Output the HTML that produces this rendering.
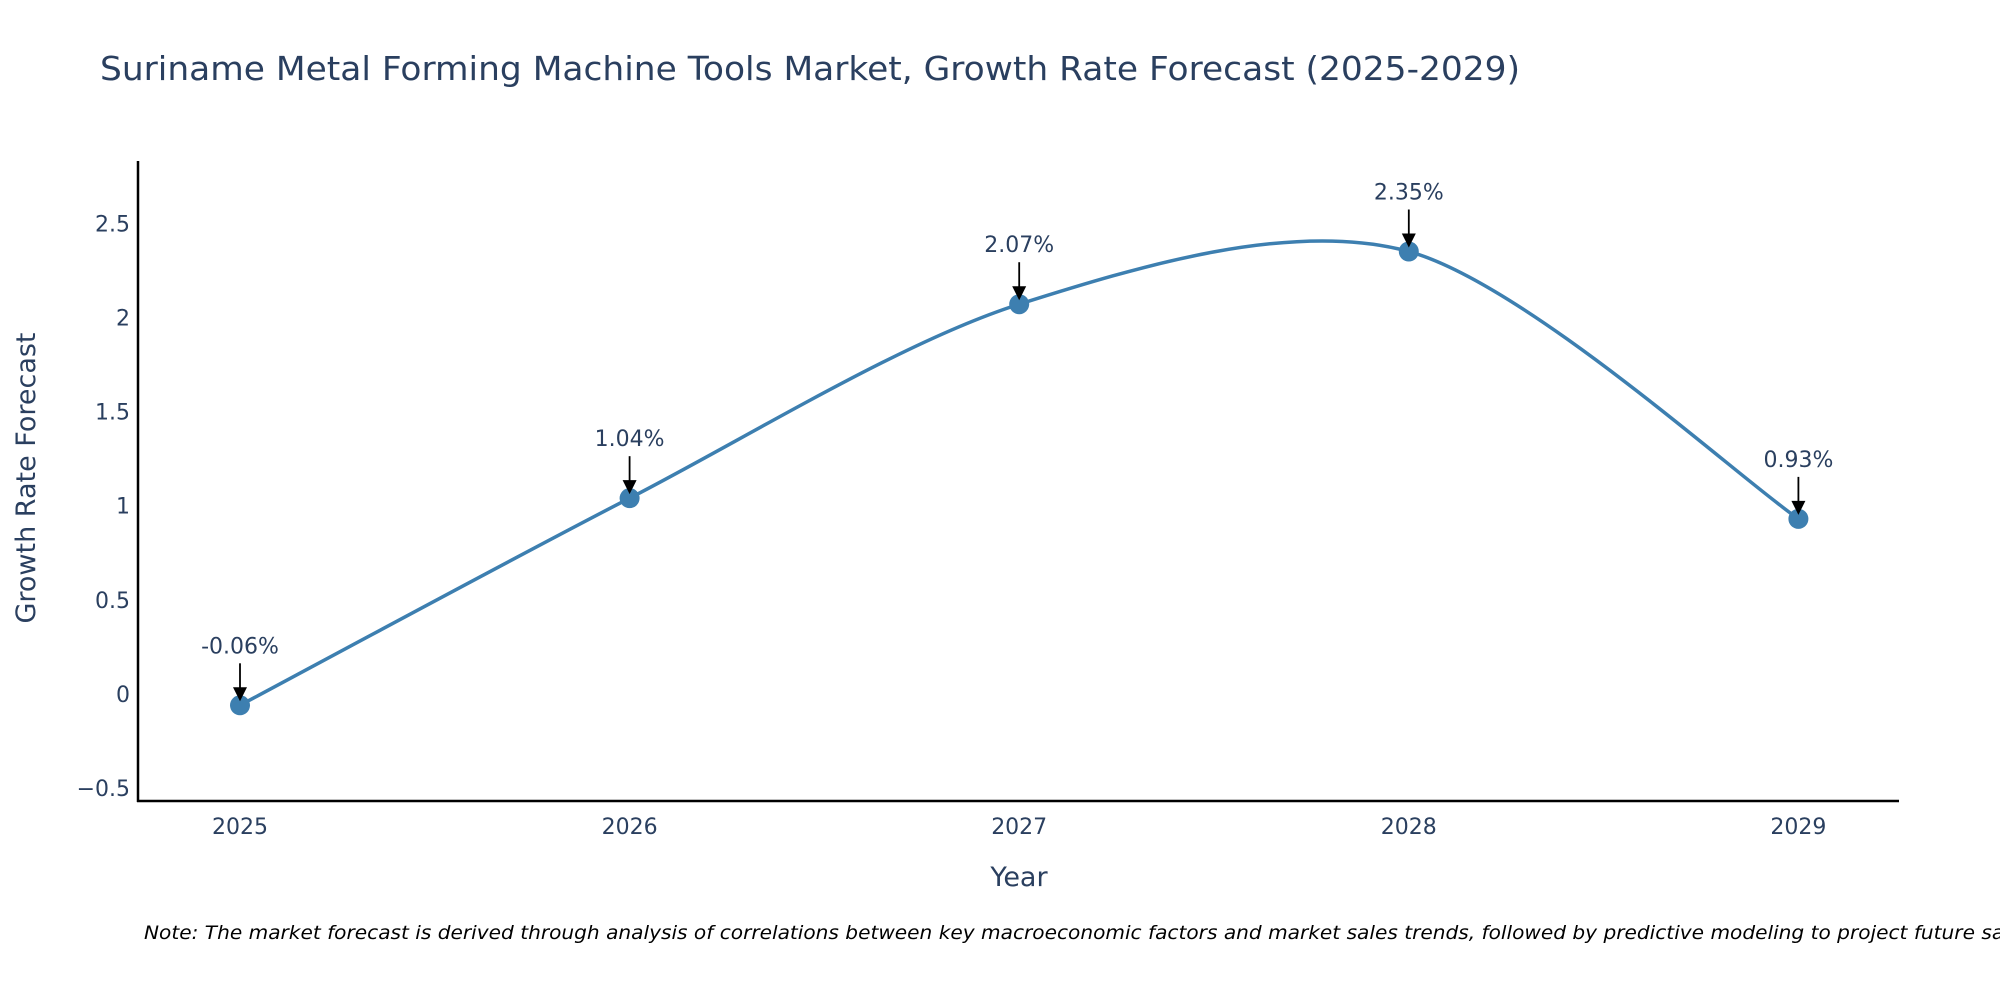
<!DOCTYPE html>
<html><head><meta charset="utf-8"><style>
body{margin:0;background:#fff;}
svg text{font-family:"DejaVu Sans","Liberation Sans",sans-serif;}
</style></head><body>
<svg id="chart" width="2000" height="1000" xmlns="http://www.w3.org/2000/svg">
<rect width="2000" height="1000" fill="#fff"/>
<text x="100" y="80" font-size="33" fill="#2a3f5f" textLength="1420" lengthAdjust="spacingAndGlyphs">Suriname Metal Forming Machine Tools Market, Growth Rate Forecast (2025-2029)</text>
<g id="yticks"></g>
<g id="xticks"></g>
<g id="series"></g>
<g id="annos"></g>
<line x1="138" y1="161" x2="138" y2="802" stroke="#000" stroke-width="2.5"/>
<line x1="137" y1="801" x2="1899" y2="801" stroke="#000" stroke-width="2.5"/>
<text x="35" y="478" font-size="27" fill="#2a3f5f" text-anchor="middle" transform="rotate(-90 35 478)">Growth Rate Forecast</text>
<text x="1019" y="886" font-size="27" fill="#2a3f5f" text-anchor="middle">Year</text>
<text x="144" y="939" font-size="19" font-style="italic" fill="#000" textLength="1895" lengthAdjust="spacingAndGlyphs">Note: The market forecast is derived through analysis of correlations between key macroeconomic factors and market sales trends, followed by predictive modeling to project future sales.</text>
</svg>
<script>
const years=[2025,2026,2027,2028,2029];
const values=[-0.06,1.04,2.07,2.35,0.93];
const labels=["-0.06%","1.04%","2.07%","2.35%","0.93%"];
const yTicks=[-0.5,0,0.5,1,1.5,2,2.5];
const yTickLabels=["\u22120.5","0","0.5","1","1.5","2","2.5"];
const NS="http://www.w3.org/2000/svg";
function X(v){return 240+(v-2025)*389.6;}
function Y(v){return 694-v*188.3;}
function mk(tag,attrs,parent){const e=document.createElementNS(NS,tag);for(const k in attrs)e.setAttribute(k,attrs[k]);parent.appendChild(e);return e;}
const yg=document.getElementById('yticks');
yTicks.forEach((t,i)=>{const e=mk('text',{x:130,y:Y(t)+8,'font-size':22,fill:'#2a3f5f','text-anchor':'end'},yg);e.textContent=yTickLabels[i];

});
const xg=document.getElementById('xticks');
years.forEach(y=>{const e=mk('text',{x:X(y),y:834,'font-size':22,fill:'#2a3f5f','text-anchor':'middle'},xg);e.textContent=String(y);

});
const pts=years.map((y,i)=>[X(y),Y(values[i])]);
let d='M'+pts[0][0]+','+pts[0][1];
const k=0.15;
for(let i=0;i<pts.length-1;i++){const p0=pts[Math.max(i-1,0)],p1=pts[i],p2=pts[i+1],p3=pts[Math.min(i+2,pts.length-1)];
const c1=[p1[0]+(p2[0]-p0[0])*k,p1[1]+(p2[1]-p0[1])*k],c2=[p2[0]-(p3[0]-p1[0])*k,p2[1]-(p3[1]-p1[1])*k];
d+=` C${c1[0]},${c1[1]} ${c2[0]},${c2[1]} ${p2[0]},${p2[1]}`;}
const sg=document.getElementById('series');
const path=mk('path',{d:d,fill:'none',stroke:'#3d7fb0','stroke-width':3.5},sg);


const ag=document.getElementById('annos');
pts.forEach((p,i)=>{const c=mk('circle',{cx:p[0],cy:p[1],r:10,fill:'#3d7fb0'},sg);


const l=mk('line',{x1:p[0],y1:p[1]-42,x2:p[0],y2:p[1]-16,stroke:'#000','stroke-width':1.8},ag);


const h=mk('polygon',{points:`${p[0]-7},${p[1]-18} ${p[0]+7},${p[1]-18} ${p[0]},${p[1]-4}`,fill:'#000'},ag);


const t=mk('text',{x:p[0],y:p[1]-52,'font-size':22,fill:'#2a3f5f','text-anchor':'middle'},ag);t.textContent=labels[i];

});
</script>
</body></html>
